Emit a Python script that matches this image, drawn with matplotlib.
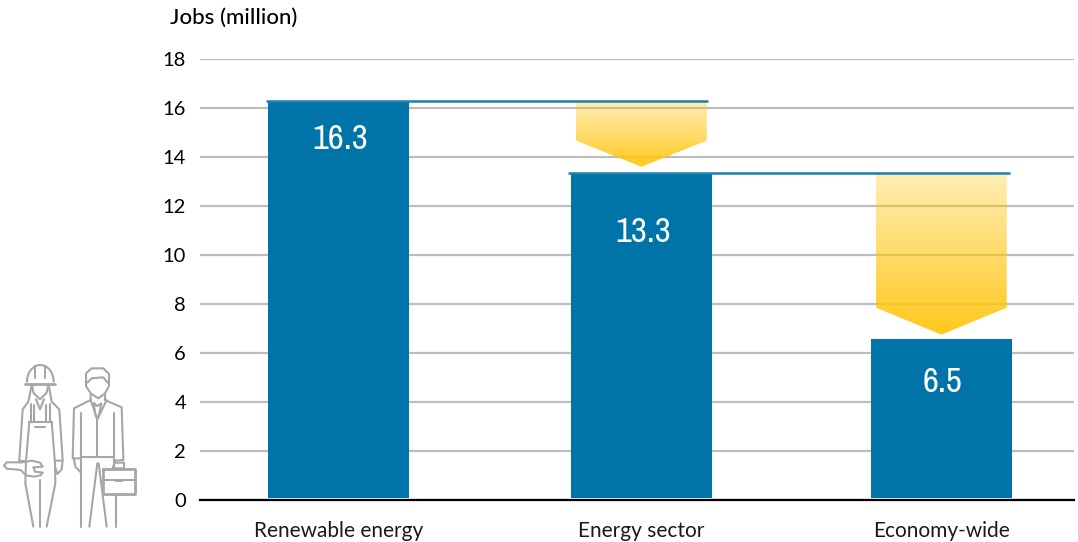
import numpy as np
import matplotlib
matplotlib.use('Agg')
import matplotlib.pyplot as plt
from matplotlib.patches import PathPatch, Rectangle
from matplotlib.path import Path

# Data
categories = ['Renewable energy', 'Energy sector', 'Economy-wide']
jobs = [16.3, 13.3, 6.5]
bar_tops = [16.3, 13.35, 6.57]
bar_x = [0, 1.005, 2]
y_ticks = [0, 2, 4, 6, 8, 10, 12, 14, 16, 18]

BLUE = '#0073a8'
LINE_BLUE = '#1b7fb0'
GREY = '#bdbdbd'
ICON = '#a6a6a6'

plt.rcParams['font.family'] = ['Lato', 'DejaVu Sans']

W, H = 1078, 542
fig = plt.figure(figsize=(W / 100, H / 100), dpi=100)
ax = fig.add_axes([200 / W, 1 - 500 / H, 874 / W, 441 / H])

for s in ['top', 'left', 'right']:
    ax.spines[s].set_visible(False)
ax.spines['bottom'].set_color('black')
ax.spines['bottom'].set_linewidth(1.6)
ax.spines['bottom'].set_zorder(6)

ax.set_yticks(y_ticks)
ax.set_yticklabels([str(t) for t in y_ticks], fontsize=14.5, color='black')
ax.tick_params(axis='y', length=0, pad=10)
ax.tick_params(axis='x', length=0, pad=15)
ax.set_xticks(bar_x)
ax.set_xticklabels(categories, fontsize=15, color='#1a1a1a')
ax.yaxis.grid(True, color=GREY, linewidth=1.6)
ax.set_axisbelow(True)

# bars stop just above the axis line
ax.bar(bar_x, np.array(bar_tops) - 0.08, bottom=0.08, width=0.468, color=BLUE, zorder=3)

# white value labels
label_y = [14.74, 10.94, 4.82]
for xi, yi, v in zip(bar_x, label_y, jobs):
    ax.text(xi + 0.005, yi, str(v), color='white', ha='center', va='center', fontsize=25,
            family=['Archivo Narrow', 'Liberation Sans Narrow', 'Roboto'], zorder=5)

# level lines from each bar to the next arrow
ax.plot([-0.24, 1.226], [bar_tops[0], bar_tops[0]], color=LINE_BLUE, lw=1.8, zorder=4,
        solid_capstyle='butt')
ax.plot([0.76, 2.228], [bar_tops[1], bar_tops[1]], color=LINE_BLUE, lw=1.8, zorder=4,
        solid_capstyle='butt')


def arrow(xc, top, shoulder, tip, half=0.217):
    # yellow gradient pentagon, see-through so the gridlines show
    n = 256
    grad = np.zeros((n, 1, 4))
    t = np.linspace(0, 1, n)
    grad[:, 0, 0] = 1.0
    grad[:, 0, 1] = 0.78
    grad[:, 0, 2] = 0.07
    grad[:, 0, 3] = 0.32 + 0.63 * t
    im = ax.imshow(grad, extent=[xc - half, xc + half, tip, top], aspect='auto',
                   origin='upper', zorder=2.5, interpolation='bilinear')
    verts = [(xc - half, top), (xc + half, top), (xc + half, shoulder), (xc, tip),
             (xc - half, shoulder), (xc - half, top)]
    clip = PathPatch(Path(verts), transform=ax.transData, fc='none', ec='none')
    ax.add_patch(clip)
    im.set_clip_path(clip)


arrow(1.005, 16.25, 14.67, 13.6)
arrow(2.0, 13.3, 7.85, 6.75)
ax.set_xlim(-0.459, 2.44)
ax.set_ylim(0, 18)

fig.text(170 / W, 1 - 18 / H, 'Jobs (million)', fontsize=16, color='black', va='center',
         ha='left', fontweight='medium')

# workers icon, drawn in pixels of the figure
icon = fig.add_axes([0, 0, 1, 1], facecolor='none')
icon.set_xlim(0, W)
icon.set_ylim(H, 0)
icon.axis('off')


def stroke(pts, lw=1.5):
    p = np.array(pts, dtype=float)
    icon.plot(p[:, 0] / 3, p[:, 1] / 3 + 350, color=ICON, lw=lw, solid_capstyle='round',
              solid_joinstyle='round')


# woman
th = np.linspace(np.pi, 0, 30)
stroke(np.c_[121 + 40 * np.cos(th), 95 - 50 * np.sin(th)])
stroke([(75, 101), (166, 101)], 2)
stroke([(105, 48), (105, 85)])
stroke([(135, 48), (135, 85)])
stroke([(96, 105), (100, 128), (120, 148), (140, 128), (145, 105)])
stroke([(95, 105), (85, 155), (68, 178), (58, 330)])
stroke([(146, 105), (155, 155), (178, 178), (188, 330)])
stroke([(108, 148), (120, 178), (132, 148)])
stroke([(92, 162), (92, 212)])
stroke([(103, 165), (103, 212)])
stroke([(138, 165), (138, 212)])
stroke([(150, 162), (150, 212)])
stroke([(88, 215), (155, 215)])
stroke([(105, 232), (135, 232)])
stroke([(88, 215), (78, 335), (76, 400), (100, 530)])
stroke([(155, 215), (165, 340), (166, 400), (140, 530)])
stroke([(120, 390), (120, 530)])
stroke([(58, 332), (78, 332)])
stroke([(165, 332), (188, 332), (185, 358), (172, 372), (165, 350)])
# wrench
stroke([(62, 337), (20, 337), (12, 347), (20, 356), (62, 360), (78, 376), (100, 380), (122, 376),
        (128, 368), (105, 365), (100, 352), (128, 350), (120, 338), (95, 332), (75, 336), (62, 337)])
# man
stroke([(258, 100), (258, 70), (275, 55), (310, 55), (327, 72), (327, 108), (315, 130), (295, 145),
        (272, 130), (258, 108), (258, 100)])
stroke([(262, 98), (275, 85), (310, 82), (323, 98)])
stroke([(272, 133), (272, 150), (222, 175), (218, 325), (242, 325)])
stroke([(315, 133), (315, 150), (365, 172), (370, 330), (345, 332)])
stroke([(272, 150), (292, 208), (320, 150)])
stroke([(282, 160), (292, 168), (304, 160), (298, 190), (292, 208), (285, 190), (282, 160)])
stroke([(292, 208), (292, 320)])
stroke([(243, 190), (243, 530)])
stroke([(342, 190), (342, 352)])
stroke([(243, 320), (342, 320)])
stroke([(292, 340), (268, 530)])
stroke([(296, 340), (320, 530)])
stroke([(347, 435), (347, 530)])
stroke([(222, 328), (226, 350), (240, 365)])
stroke([(345, 332), (338, 355), (372, 355), (372, 338), (345, 338)])
stroke([(308, 358), (405, 358), (405, 432), (308, 432), (308, 358)], 2)
stroke([(308, 390), (405, 390)])
icon.add_patch(Rectangle((115, 479), 8, 3, fc=ICON, ec='none'))

fig.savefig('out.png', dpi=100)
